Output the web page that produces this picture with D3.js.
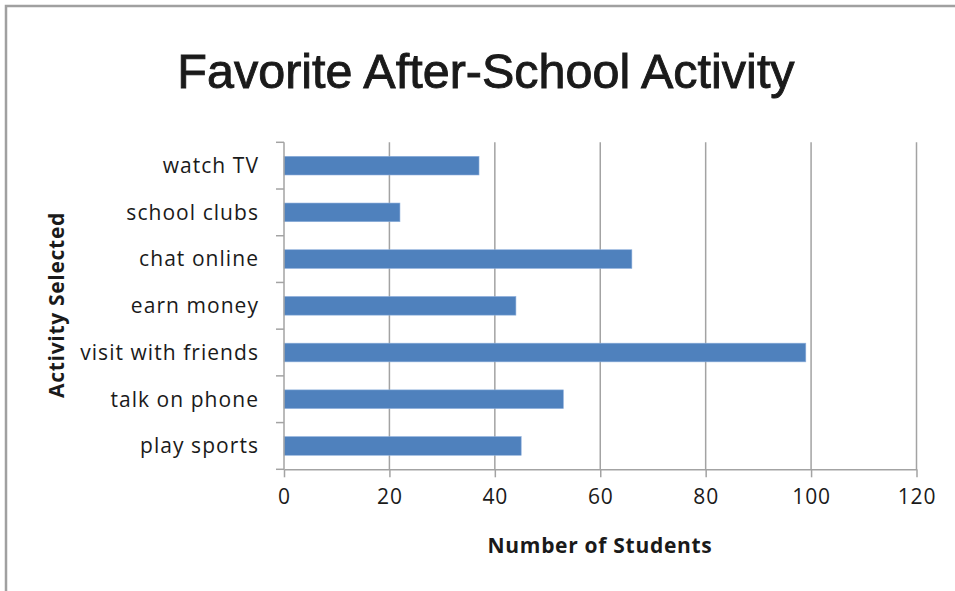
<!DOCTYPE html>
<html>
<head>
<meta charset="utf-8">
<script src="https://cdn.jsdelivr.net/npm/d3@7/dist/d3.min.js"></script>
<style>
  html, body { margin: 0; padding: 0; background: #fff; }
  svg { display: block; }
</style>
</head>
<body>
<svg id="chart" width="955" height="591"></svg>
<script>
// Favorite after-school activity survey
const categories = ["watch TV", "school clubs", "chat online", "earn money", "visit with friends", "talk on phone", "play sports"];
const students = [37, 22, 66, 44, 99, 53, 45];
const xTicks = [0, 20, 40, 60, 80, 100, 120];

const svg = d3.select("#chart");
const W = 955, H = 591;
const plot = { left: 284, right: 916.5, top: 142.3, bottom: 469.3 };
const labelFont = "'Open Sans', 'Noto Sans', sans-serif";
const grey = "#a3a3a3";
const ink = "#1a1a1a";

// chart frame
svg.append("path")
  .attr("d", `M6,${H} L6,6 L${W},6`)
  .attr("fill", "none")
  .attr("stroke", "#a0a0a0")
  .attr("stroke-width", 2.5);

// title
svg.append("text")
  .attr("x", 486).attr("y", 88)
  .attr("text-anchor", "middle")
  .attr("font-family", "'Liberation Sans', Arial, sans-serif")
  .attr("font-size", 48.5)
  .attr("fill", ink)
  .attr("stroke", ink).attr("stroke-width", 0.9)
  .text("Favorite After-School Activity");

const x = d3.scaleLinear().domain([0, 120]).range([plot.left, plot.right]);
const y = d3.scaleBand().domain(categories).range([plot.top, plot.bottom]).paddingInner(0.6).paddingOuter(0.3);
const yBand = d3.scaleBand().domain(categories).range([plot.top, plot.bottom]);

// vertical gridlines
svg.append("g").selectAll("line")
  .data(xTicks.slice(1))
  .join("line")
  .attr("x1", d => x(d)).attr("x2", d => x(d))
  .attr("y1", plot.top).attr("y2", plot.bottom)
  .attr("stroke", grey).attr("stroke-width", 1.5);

// bars
svg.append("g").selectAll("rect")
  .data(categories)
  .join("rect")
  .attr("x", x(0))
  .attr("y", d => y(d))
  .attr("width", (d, i) => x(students[i]) - x(0))
  .attr("height", y.bandwidth())
  .attr("fill", "#4f81bd")
  .attr("stroke", "#8fb0dc")
  .attr("stroke-width", 0.6);

// x axis
const xAxis = svg.append("g")
  .attr("transform", `translate(0,${plot.bottom})`)
  .call(d3.axisBottom(x).tickValues(xTicks).tickSize(8).tickSizeOuter(0).tickPadding(12));
xAxis.select(".domain").attr("stroke", grey).attr("stroke-width", 1.5);
xAxis.selectAll(".tick line").attr("stroke", grey).attr("stroke-width", 1.5);
xAxis.selectAll(".tick text")
  .attr("font-family", labelFont).attr("font-size", 21).attr("fill", ink)
  .attr("letter-spacing", 0.8);

// y axis: ticks on band boundaries, labels centered in bands
const yAxisG = svg.append("g");
yAxisG.append("line")
  .attr("x1", plot.left).attr("x2", plot.left)
  .attr("y1", plot.top).attr("y2", plot.bottom)
  .attr("stroke", grey).attr("stroke-width", 1.5);
const bounds = categories.map(d => yBand(d)).concat([plot.bottom]);
yAxisG.selectAll("line.tk")
  .data(bounds)
  .join("line").attr("class", "tk")
  .attr("x1", plot.left - 8).attr("x2", plot.left)
  .attr("y1", d => d).attr("y2", d => d)
  .attr("stroke", grey).attr("stroke-width", 1.5);
yAxisG.selectAll("text")
  .data(categories)
  .join("text")
  .attr("x", 259)
  .attr("y", d => yBand(d) + yBand.bandwidth() / 2)
  .attr("dy", "0.35em")
  .attr("text-anchor", "end")
  .attr("font-family", labelFont).attr("font-size", 21).attr("fill", ink)
  .attr("letter-spacing", 1.05)
  .text(d => d);

// axis titles
svg.append("text")
  .attr("x", 600).attr("y", 553)
  .attr("text-anchor", "middle")
  .attr("font-family", labelFont).attr("font-weight", "bold").attr("font-size", 21)
  .attr("fill", ink)
  .attr("letter-spacing", 0.7)
  .text("Number of Students");

svg.append("text")
  .attr("transform", "translate(64,305) rotate(-90)")
  .attr("text-anchor", "middle")
  .attr("font-family", labelFont).attr("font-weight", "bold").attr("font-size", 21)
  .attr("fill", ink)
  .attr("letter-spacing", 0.7)
  .text("Activity Selected");
</script>
</body>
</html>
